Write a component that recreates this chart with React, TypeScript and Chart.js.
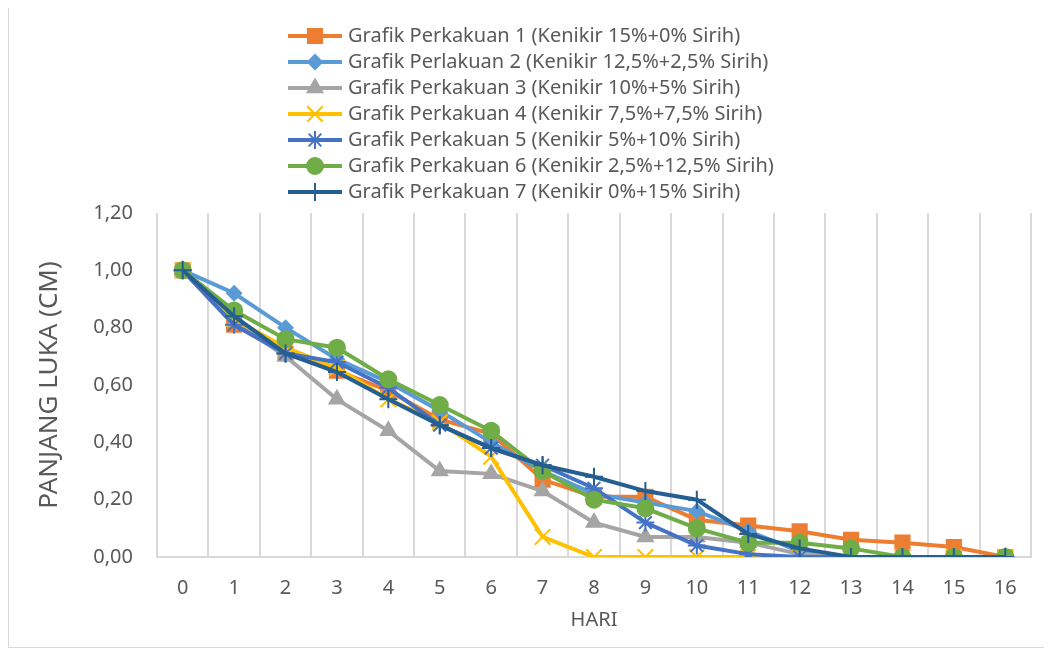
import React, { useEffect, useRef } from "react";
import { Chart, registerables } from "chart.js";
import { drawPoint } from "chart.js/helpers";

Chart.register(...registerables);

const days = ["0", "1", "2", "3", "4", "5", "6", "7", "8", "9", "10", "11", "12", "13", "14", "15", "16"];

const seriesNames = [
  "Grafik Perkakuan 1 (Kenikir 15%+0% Sirih)",
  "Grafik Perlakuan 2 (Kenikir 12,5%+2,5% Sirih)",
  "Grafik Perkakuan 3 (Kenikir 10%+5% Sirih)",
  "Grafik Perkakuan 4 (Kenikir 7,5%+7,5% Sirih)",
  "Grafik Perkakuan 5 (Kenikir 5%+10% Sirih)",
  "Grafik Perkakuan 6 (Kenikir 2,5%+12,5% Sirih)",
  "Grafik Perkakuan 7 (Kenikir 0%+15% Sirih)",
];

const p1 = [1.0, 0.81, 0.71, 0.65, 0.58, 0.48, 0.43, 0.27, 0.21, 0.21, 0.13, 0.11, 0.09, 0.06, 0.05, 0.035, 0.0];
const p2 = [1.0, 0.92, 0.8, 0.69, 0.61, 0.51, 0.4, 0.3, 0.22, 0.19, 0.16, 0.09, 0.02, 0.0, 0.0, 0.0, 0.0];
const p3 = [1.0, 0.82, 0.7, 0.55, 0.44, 0.3, 0.29, 0.23, 0.12, 0.07, 0.07, 0.05, 0.01, 0.0, 0.0, 0.0, 0.0];
const p4 = [1.0, 0.83, 0.73, 0.66, 0.55, 0.47, 0.35, 0.07, 0.0, 0.0, 0.0, 0.0, 0.0, 0.0, 0.0, 0.0, 0.0];
const p5 = [1.0, 0.81, 0.71, 0.68, 0.59, 0.46, 0.38, 0.32, 0.24, 0.12, 0.04, 0.01, 0.0, 0.0, 0.0, 0.0, 0.0];
const p6 = [1.0, 0.86, 0.76, 0.73, 0.62, 0.53, 0.44, 0.3, 0.2, 0.17, 0.1, 0.05, 0.05, 0.03, 0.0, 0.0, 0.0];
const p7 = [1.0, 0.84, 0.71, 0.645, 0.55, 0.46, 0.38, 0.32, 0.28, 0.23, 0.2, 0.08, 0.03, 0.0, 0.0, 0.0, 0.0];

const seriesValues = [p1, p2, p3, p4, p5, p6, p7];
const colors = ["#ED7D31", "#5B9BD5", "#A5A5A5", "#FFC000", "#4472C4", "#70AD47", "#255E91"];
const pointStyles = ["rect", "rectRot", "triangle", "crossRot", "star", "circle", "cross"];
const pointRadii = [10, 7, 8.5, 11, 9, 8, 9];

const yTicks = [0, 0.2, 0.4, 0.6, 0.8, 1.0, 1.2];

const FONT = "'Noto Sans', 'Open Sans', sans-serif";
const TEXT = "#595959";

const legendPlugin = {
  id: "excelLegend",
  afterDraw(chart: any) {
    const ctx = chart.ctx;
    const lineX0 = 279;
    const lineX1 = 333;
    const textX = 339;
    const rowY0 = 28;
    const rowH = 26;
    ctx.save();
    chart.data.datasets.forEach((ds: any, i: number) => {
      const y = rowY0 + i * rowH;
      ctx.strokeStyle = ds.borderColor;
      ctx.lineWidth = 4;
      ctx.beginPath();
      ctx.moveTo(lineX0, y);
      ctx.lineTo(lineX1, y);
      ctx.stroke();
      ctx.fillStyle = ds.pointBackgroundColor;
      ctx.strokeStyle = ds.pointBorderColor;
      ctx.lineWidth = ds.pointBorderWidth;
      drawPoint(ctx, { pointStyle: ds.pointStyle, radius: ds.pointRadius, rotation: 0, borderWidth: ds.pointBorderWidth }, (lineX0 + lineX1) / 2, y);
      ctx.fillStyle = TEXT;
      ctx.font = `20px ${FONT}`;
      ctx.textAlign = "left";
      ctx.textBaseline = "middle";
      ctx.fillText(ds.label, textX, y);
    });
    ctx.restore();
  },
};

export default function App() {
  const ref = useRef<HTMLCanvasElement>(null);

  useEffect(() => {
    if (!ref.current) return;
    const datasets = seriesValues.map((vals, i) => ({
      label: seriesNames[i],
      data: vals,
      borderColor: colors[i],
      backgroundColor: colors[i],
      pointBackgroundColor: colors[i],
      pointBorderColor: colors[i],
      pointBorderWidth: 2,
      pointStyle: pointStyles[i],
      pointRadius: pointRadii[i],
      pointHoverRadius: pointRadii[i],
      borderWidth: 4,
      tension: 0,
      fill: false,
      order: seriesValues.length - i,
    }));

    const chart = new Chart(ref.current, {
      type: "line",
      data: { labels: days, datasets },
      plugins: [legendPlugin],
      options: {
        animation: false,
        responsive: false,
        maintainAspectRatio: false,
        devicePixelRatio: 1,
        layout: { padding: { top: 205, right: 8, left: 0, bottom: 0 } },
        plugins: {
          legend: { display: false },
          tooltip: { enabled: false },
        },
        scales: {
          x: {
            type: "category",
            offset: true,
            grid: { display: true, offset: true, color: "#D9D9D9", lineWidth: 2, drawTicks: false },
            border: { display: true, color: "#D9D9D9", width: 2 },
            ticks: { color: TEXT, font: { family: FONT, size: 20 }, padding: 19, maxRotation: 0, autoSkip: false },
            title: { display: true, text: "HARI", color: TEXT, font: { family: FONT, size: 20 }, padding: { top: 0, bottom: 15 } },
            afterFit: (scale: any) => {
              scale.height = 90;
            },
          },
          y: {
            min: 0,
            max: 1.2,
            grid: { display: false, drawTicks: false },
            border: { display: false },
            afterBuildTicks: (scale: any) => {
              scale.ticks = yTicks.map((v) => ({ value: v }));
            },
            ticks: {
              color: TEXT,
              font: { family: FONT, size: 20 },
              padding: 24,
              callback: (v: any) => Number(v).toFixed(2).replace(".", ","),
            },
            title: { display: true, text: "PANJANG LUKA (CM)", color: TEXT, font: { family: FONT, size: 26 }, padding: { top: 25, bottom: 0 } },
            afterFit: (scale: any) => {
              scale.width = 148;
            },
          },
        },
      },
    });
    return () => chart.destroy();
  }, []);

  return (
    <div
      style={{
        position: "relative",
        width: 1037,
        height: 641,
        border: "1px solid #D9D9D9",
        boxSizing: "border-box",
        marginTop: -1,
        background: "#fff",
      }}
    >
      <canvas ref={ref} width={1035} height={639} style={{ display: "block", width: 1035, height: 639 }} />
    </div>
  );
}
